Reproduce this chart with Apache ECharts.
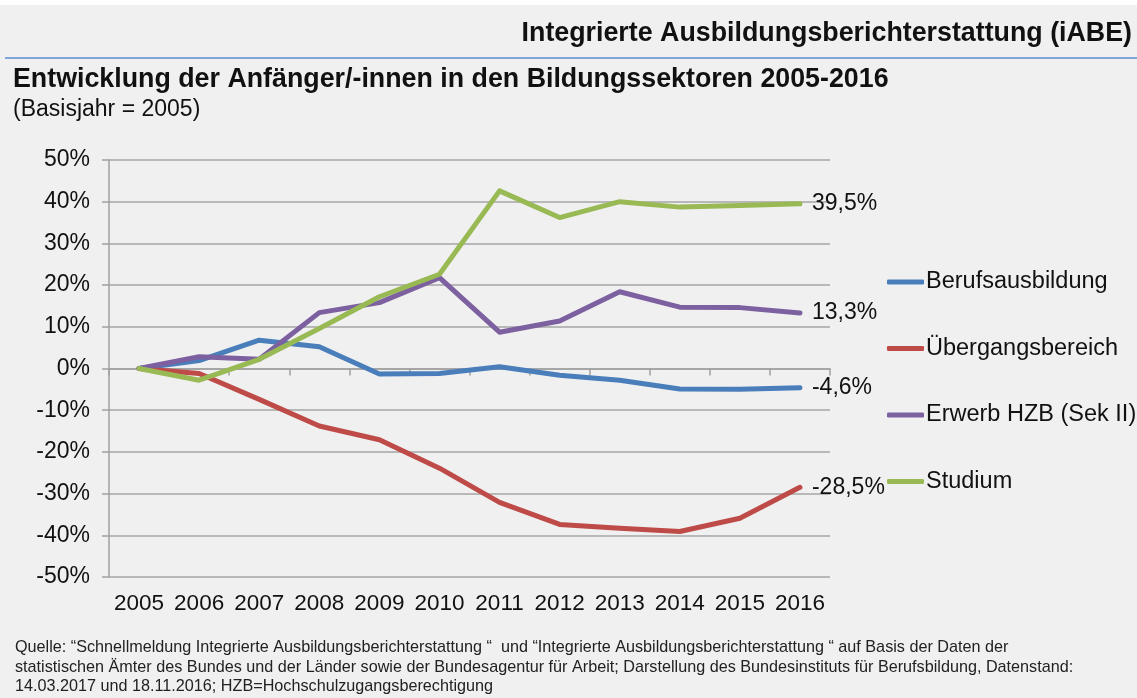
<!DOCTYPE html>
<html>
<head>
<meta charset="utf-8">
<script src="https://cdn.jsdelivr.net/npm/echarts@6/dist/echarts.min.js"></script>
<style>
html,body{margin:0;padding:0;background:#f0f0f0;}
#c{width:1137px;height:698px;}
</style>
</head>
<body>
<div id="c"></div>
<script>
const years = ['2005','2006','2007','2008','2009','2010','2011','2012','2013','2014','2015','2016'];
const berufsausbildung = [0, 1.9, 6.8, 5.2, -1.3, -1.2, 0.4, -1.6, -2.8, -4.9, -5.0, -4.6];
const uebergangsbereich = [0, -1.2, -7.4, -13.8, -17.1, -23.9, -32.1, -37.4, -38.3, -39.1, -35.9, -28.5];
const erwerbHZB = [0, 2.8, 2.2, 13.4, 15.8, 21.8, 8.7, 11.4, 18.4, 14.7, 14.6, 13.3];
const studium = [0, -2.8, 2.2, 9.6, 17.2, 22.6, 42.6, 36.2, 40.0, 38.7, 39.1, 39.5];
const seriesNames = ['Berufsausbildung', 'Übergangsbereich', 'Erwerb HZB (Sek II)', 'Studium'];
const seriesColors = ['#4a7ebb', '#be4b48', '#7d60a0', '#98b954'];
const headerText = 'Integrierte Ausbildungsberichterstattung (iABE)';
const titleText = 'Entwicklung der Anfänger/-innen in den Bildungssektoren 2005-2016';
const subtitleText = '(Basisjahr = 2005)';
const footerText = 'Quelle: “Schnellmeldung Integrierte Ausbildungsberichterstattung “  und “Integrierte Ausbildungsberichterstattung “ auf Basis der Daten der\nstatistischen Ämter des Bundes und der Länder sowie der Bundesagentur für Arbeit; Darstellung des Bundesinstituts für Berufsbildung, Datenstand:\n14.03.2017 und 18.11.2016; HZB=Hochschulzugangsberechtigung';

const font = 'Liberation Sans, Arial, sans-serif';
const dataSets = [berufsausbildung, uebergangsbereich, erwerbHZB, studium];

const chart = echarts.init(document.getElementById('c'), null, {renderer: 'canvas'});

const fmt = v => String(v).replace('.', ',') + '%';

const series = dataSets.map((d, i) => ({
  name: seriesNames[i],
  type: 'line',
  data: d,
  showSymbol: false,
  symbol: 'none',
  smooth: false,
  lineStyle: {width: 5, color: seriesColors[i], cap: 'round', join: 'round'},
  itemStyle: {color: seriesColors[i]},
  z: 3 + (i === 3 ? 1 : 0),
  endLabel: {
    show: true,
    formatter: p => fmt(p.value),
    color: '#111',
    fontSize: 23,
    fontFamily: font,
    distance: 12
  }
}));

chart.setOption({
  backgroundColor: '#f0f0f0',
  animation: false,
  graphic: [
    {type: 'rect', shape: {x: 0, y: 0, width: 1137, height: 5}, style: {fill: '#ffffff'}, silent: true},
    {type: 'line', shape: {x1: 5, y1: 58, x2: 1137, y2: 58}, style: {stroke: '#5b8fd0', lineWidth: 1.5}, silent: true},
    {type: 'text', right: 5, top: 20, style: {text: headerText, font: 'bold 26.8px ' + font, fill: '#111'}},
    {type: 'text', left: 13, top: 66, style: {text: titleText, font: 'bold 26.8px ' + font, fill: '#111'}},
    {type: 'text', left: 13, top: 98, style: {text: subtitleText, font: '23px ' + font, fill: '#111'}},
    {type: 'text', left: 15, top: 638, style: {text: footerText, font: '16.2px ' + font, fill: '#222', lineHeight: 19.5}}
  ],
  legend: {
    orient: 'vertical',
    left: 882,
    top: 265,
    itemGap: 42.5,
    itemWidth: 37,
    itemHeight: 5,
    icon: 'roundRect',
    data: seriesNames,
    textStyle: {fontSize: 23.5, fontFamily: font, color: '#111', padding: [0, 0, 0, -3]}
  },
  grid: {left: 109, right: 307, top: 160, bottom: 121, containLabel: false},
  xAxis: [
    {
      type: 'category',
      data: years,
      boundaryGap: true,
      position: 'bottom',
      axisLine: {onZero: true, lineStyle: {color: '#a0a0a0', width: 1.5}},
      axisTick: {show: true, inside: false, length: 7, lineStyle: {color: '#a0a0a0', width: 1.5}},
      axisLabel: {show: false},
      z: 2
    },
    {
      type: 'category',
      data: years,
      boundaryGap: true,
      position: 'bottom',
      axisLine: {show: false},
      axisTick: {show: false},
      axisLabel: {show: true, fontSize: 22.5, fontFamily: font, color: '#111', margin: 15, interval: 0}
    }
  ],
  yAxis: {
    type: 'value',
    min: -50,
    max: 50,
    interval: 10,
    axisLine: {show: true, lineStyle: {color: '#a0a0a0', width: 1.5}},
    axisTick: {show: true, length: 7, lineStyle: {color: '#a0a0a0', width: 1.5}},
    axisLabel: {formatter: v => v + '%', fontSize: 23, fontFamily: font, color: '#111', margin: 19},
    splitLine: {show: true, lineStyle: {color: '#a6a6a6', width: 1.5}}
  },
  series: series
});
</script>
</body>
</html>
